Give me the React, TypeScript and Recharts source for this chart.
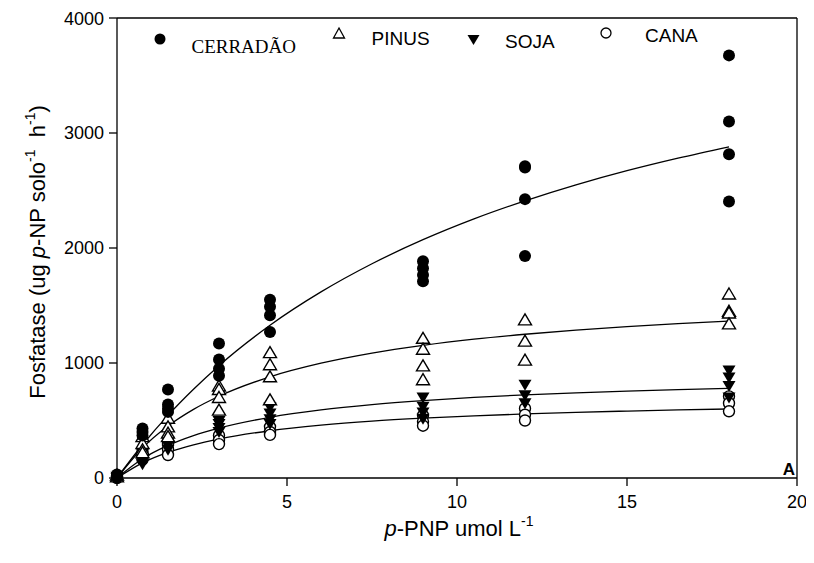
import React from "react";
import { ComposedChart, XAxis, YAxis, Line, Scatter, ReferenceLine } from "recharts";

// Substrate concentrations (p-PNP umol L-1)
const concentrations = [0, 0.75, 1.5, 3, 4.5, 9, 12, 18];

// Replicate observations per concentration
const cerradaoValues = [
  [30, 15, 5],
  [430, 400, 370],
  [770, 640, 605, 575],
  [1170, 1030, 950, 890],
  [1550, 1490, 1415, 1270],
  [1885, 1825, 1765, 1710],
  [2710, 2700, 2425, 1930],
  [3675, 3100, 2815, 2405],
];
const pinusValues = [
  [25, 10],
  [360, 300, 245, 220],
  [520, 445, 390, 360],
  [800, 770, 700, 590],
  [1090, 985, 880, 680],
  [1215, 1120, 975, 855],
  [1375, 1190, 1025],
  [1600, 1450, 1435, 1340],
];
const sojaValues = [
  [10, 0],
  [210, 170, 140, 120],
  [315, 280, 245],
  [495, 470, 435, 400],
  [615, 560, 510, 470],
  [700, 620, 570, 515],
  [810, 720, 650],
  [935, 875, 800, 700],
];
const canaValues = [
  [10, 0],
  [230, 190, 160],
  [300, 250, 200],
  [370, 330, 295],
  [445, 400, 375],
  [545, 490, 455],
  [605, 550, 500],
  [710, 650, 580],
];

// Fitted curves
const curveX = [0, 0.75, 1.5, 2.25, 3, 4.5, 6, 7.5, 9, 10.5, 12, 13.5, 15, 16.5, 18];
const cerradaoCurve = [0, 289, 545, 772, 977, 1328, 1618, 1863, 2072, 2253, 2410, 2549, 2672, 2781, 2880];
const pinusCurve = [0, 261, 452, 597, 711, 880, 998, 1086, 1153, 1207, 1250, 1286, 1317, 1342, 1365];
const sojaCurve = [0, 167, 283, 369, 434, 528, 592, 638, 673, 701, 723, 741, 756, 769, 780];
const canaCurve = [0, 132, 223, 289, 339, 411, 459, 494, 520, 541, 557, 571, 582, 592, 600];

const xTicks = [0, 5, 10, 15, 20];
const yTicks = [0, 1000, 2000, 3000, 4000];

const toPoints = (vals: number[][]) =>
  vals.flatMap((arr, i) => arr.map((y) => ({ x: concentrations[i], y })));
const toCurve = (ys: number[]) => curveX.map((x, i) => ({ x, y: ys[i] }));

const FONT = "'Liberation Sans', Arial, sans-serif";

const FilledCircle = (p: any) => <circle cx={p.cx} cy={p.cy} r={6} fill="#000" />;
const OpenCircle = (p: any) => (
  <circle cx={p.cx} cy={p.cy} r={5.5} fill="#fff" stroke="#000" strokeWidth={1.4} />
);
const OpenTriangle = (p: any) => (
  <path
    d={`M${p.cx},${p.cy - 6} L${p.cx + 6.5},${p.cy + 5} L${p.cx - 6.5},${p.cy + 5} Z`}
    fill="#fff"
    stroke="#000"
    strokeWidth={1.4}
  />
);
const DownTriangle = (p: any) => (
  <path
    d={`M${p.cx - 6.5},${p.cy - 5} L${p.cx + 6.5},${p.cy - 5} L${p.cx},${p.cy + 6} Z`}
    fill="#000"
  />
);

export default function App() {
  const W = 806;
  const H = 555;
  return (
    <div style={{ position: "relative", width: W, height: H }}>
      <ComposedChart width={W} height={H} margin={{ top: 10, right: 17, bottom: 0, left: 0 }}>
        <XAxis
          type="number"
          dataKey="x"
          domain={[0, 20]}
          ticks={xTicks}
          height={85}
          tickSize={8}
          tickMargin={9}
          stroke="#000"
          strokeWidth={1.3}
          tick={{ fill: "#000", fontSize: 18, fontFamily: FONT }}
          allowDuplicatedCategory={false}
        />
        <YAxis
          type="number"
          domain={[0, 4000]}
          ticks={yTicks}
          width={109}
          tickSize={8}
          tickMargin={5}
          stroke="#000"
          strokeWidth={1.3}
          tick={{ fill: "#000", fontSize: 18, fontFamily: FONT }}
        />
        <ReferenceLine y={4000} stroke="#000" strokeWidth={1.3} />
        <ReferenceLine x={20} stroke="#000" strokeWidth={1.3} />
        <Line data={toCurve(cerradaoCurve)} dataKey="y" type="monotone" stroke="#000" strokeWidth={1.3} dot={false} isAnimationActive={false} />
        <Line data={toCurve(pinusCurve)} dataKey="y" type="monotone" stroke="#000" strokeWidth={1.3} dot={false} isAnimationActive={false} />
        <Line data={toCurve(sojaCurve)} dataKey="y" type="monotone" stroke="#000" strokeWidth={1.3} dot={false} isAnimationActive={false} />
        <Line data={toCurve(canaCurve)} dataKey="y" type="monotone" stroke="#000" strokeWidth={1.3} dot={false} isAnimationActive={false} />
        <Scatter data={toPoints(canaValues)} dataKey="y" shape={OpenCircle} isAnimationActive={false} />
        <Scatter data={toPoints(sojaValues)} dataKey="y" shape={DownTriangle} isAnimationActive={false} />
        <Scatter data={toPoints(pinusValues)} dataKey="y" shape={OpenTriangle} isAnimationActive={false} />
        <Scatter data={toPoints(cerradaoValues)} dataKey="y" shape={FilledCircle} isAnimationActive={false} />
      </ComposedChart>
      <svg
        width={W}
        height={H}
        style={{ position: "absolute", left: 0, top: 0, pointerEvents: "none" }}
      >
        {/* Legend */}
        <circle cx={152} cy={31} r={5.5} fill="#000" />
        <text x={183.5} y={44.7} fontFamily="'Liberation Serif', 'Times New Roman', serif" fontSize={19} fill="#000">
          CERRADÃO
        </text>
        <path d="M331,20 L336.5,30 L325.5,30 Z" fill="#fff" stroke="#000" strokeWidth={1.3} />
        <text x={363.5} y={37} fontFamily={FONT} fontSize={19} fill="#000">PINUS</text>
        <path d="M459.5,27 L471.5,27 L465.5,37 Z" fill="#000" />
        <text x={497} y={39.7} fontFamily={FONT} fontSize={19} fill="#000">SOJA</text>
        <circle cx={598} cy={25} r={5} fill="#fff" stroke="#000" strokeWidth={1.3} />
        <text x={637} y={34} fontFamily={FONT} fontSize={19} fill="#000">CANA</text>

        {/* Panel letter */}
        <text x={787} y={467} textAnchor="end" fontFamily={FONT} fontSize={17} fontWeight="bold" fill="#000">A</text>

        {/* X axis title */}
        <text x={451} y={528} textAnchor="middle" fontFamily={FONT} fontSize={22} fill="#000">
          <tspan fontStyle="italic">p</tspan>
          <tspan>-PNP umol L</tspan>
          <tspan dy={-10} fontSize={14}>-1</tspan>
        </text>

        {/* Y axis title */}
        <text
          transform="translate(37,244) rotate(-90)"
          textAnchor="middle"
          fontFamily={FONT}
          fontSize={22}
          fill="#000"
        >
          <tspan>Fosfatase (ug </tspan>
          <tspan fontStyle="italic">p</tspan>
          <tspan>-NP solo</tspan>
          <tspan dy={-10} fontSize={14}>-1</tspan>
          <tspan dy={10}>{"\u00A0\u00A0h"}</tspan>
          <tspan dy={-10} fontSize={14}>-1</tspan>
          <tspan dy={10}>)</tspan>
        </text>
      </svg>
    </div>
  );
}
